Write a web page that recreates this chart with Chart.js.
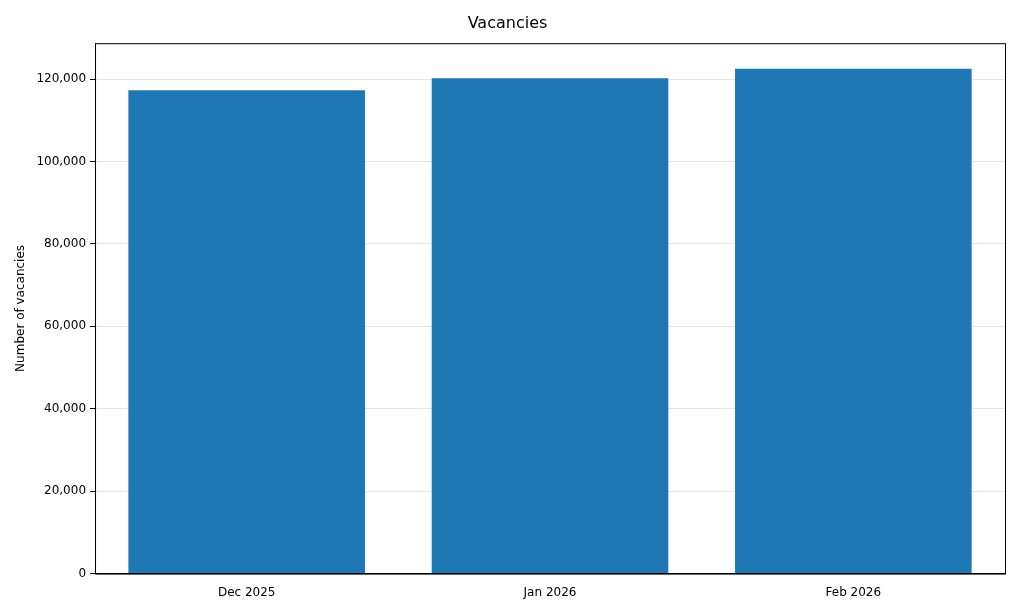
<!DOCTYPE html>
<html><head><meta charset="utf-8">
<script src="https://cdn.jsdelivr.net/npm/chart.js@4"></script>
<style>html,body{margin:0;padding:0;background:#fff}#w{width:1024px;height:614px}</style>
</head><body><div id="w"><canvas id="c"></canvas></div>
<script>
const categories = ["Dec 2025", "Jan 2026", "Feb 2026"];
const vacancies = [117300, 120200, 122500];
const yTicks = [0, 20000, 40000, 60000, 80000, 100000, 120000];

Chart.defaults.font.family = "'DejaVu Sans', sans-serif";
Chart.defaults.color = "#000";
const border = {
  id: 'border',
  afterDraw(ch) {
    const a = ch.chartArea, c = ch.ctx;
    c.save(); c.strokeStyle = '#000'; c.lineWidth = 1;
    c.strokeRect(a.left + 0.5, a.top + 0.5, a.right - a.left, a.bottom - a.top);
    c.restore();
  }
};
new Chart(document.getElementById('c'), {
  type: 'bar',
  data: { labels: categories, datasets: [{ data: vacancies, backgroundColor: '#1f77b4',
    categoryPercentage: 1, barPercentage: 0.78 }] },
  options: {
    responsive: true, maintainAspectRatio: false, animation: false,
    layout: { padding: { left: 10, right: 19, top: 8, bottom: 10 } },
    plugins: { legend: { display: false }, tooltip: { enabled: false },
      title: { display: true, text: 'Vacancies', font: { size: 16, weight: 'normal' }, padding: { top: 6, bottom: 10 } } },
    scales: {
      x: { grid: { display: false, drawTicks: true }, border: { color: '#000' },
        ticks: { font: { size: 12 }, padding: 4 } },
      y: { min: 0, max: 128700, z: 1,
        afterBuildTicks: s => { s.ticks = yTicks.map(v => ({ value: v })); },
        grid: { color: 'rgba(200,200,200,0.45)', tickColor: '#000', tickLength: 5 },
        border: { color: '#000' },
        ticks: { font: { size: 12 }, padding: 4 },
        title: { display: true, text: 'Number of vacancies', font: { size: 12 } } }
    }
  },
  plugins: [border]
});
</script></body></html>
